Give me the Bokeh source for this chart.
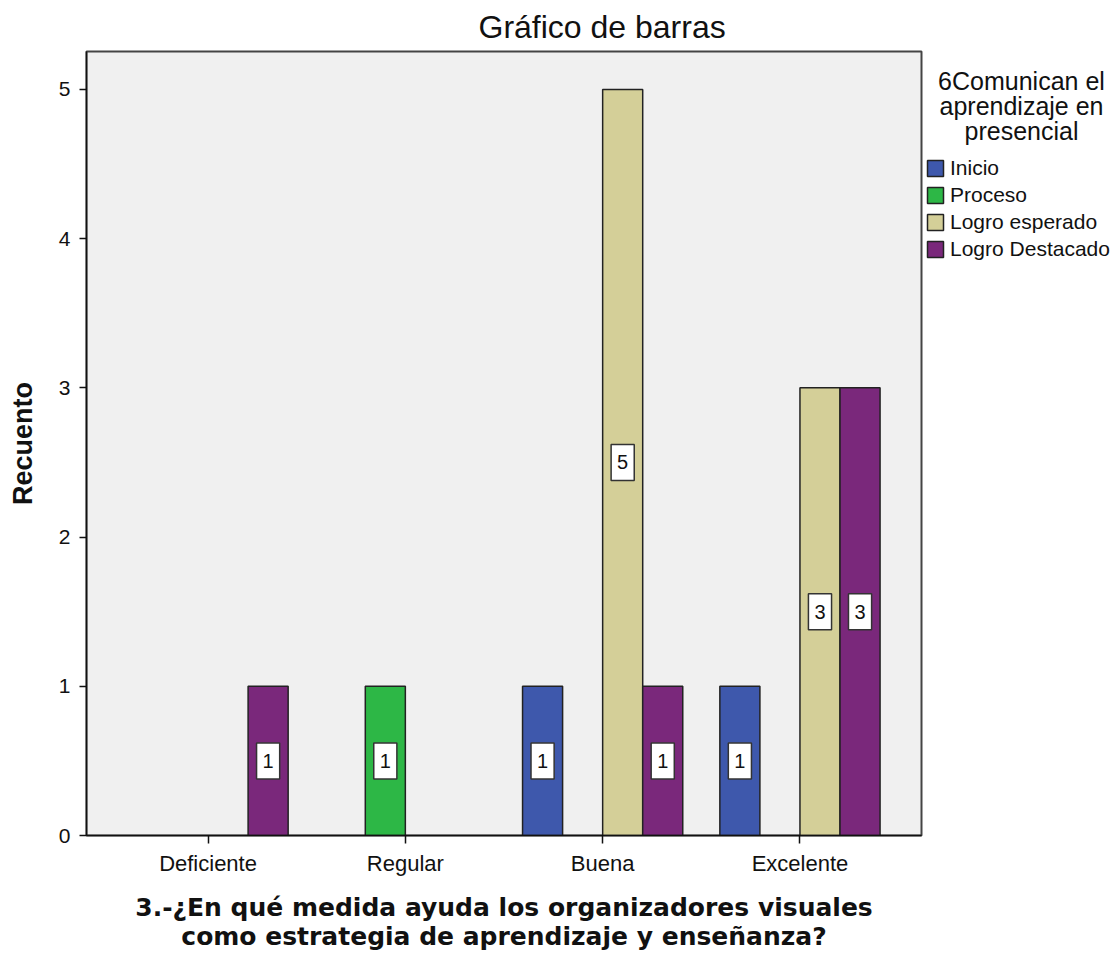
from bokeh.plotting import figure
from bokeh.layouts import row
from bokeh.models import ColumnDataSource, FactorRange, Range1d, Legend, LegendItem, FixedTicker, Title, Label
from bokeh.transform import dodge
from bokeh.core.properties import value
from bokeh.embed import file_html
from bokeh.resources import INLINE

# ---- data ----
categories = ["Deficiente", "Regular", "Buena", "Excelente"]
series = ["Inicio", "Proceso", "Logro esperado", "Logro Destacado"]
inicio = [0, 0, 1, 1]
proceso = [0, 1, 0, 0]
logro_esperado = [0, 0, 5, 3]
logro_destacado = [1, 0, 1, 3]
y_ticks = [0, 1, 2, 3, 4, 5]

title_text = "Gráfico de barras"
legend_title_lines = ["6Comunican el", "aprendizaje en", "presencial"]
x_title = "3.-¿En qué medida ayuda los organizadores visuales\ncomo estrategia de aprendizaje y enseñanza?"
y_title = "Recuento"

# ---- style ----
colors = ["#3E58AC", "#2DB746", "#D4CF98", "#7A287B"]
offsets = [-0.3045, -0.1015, 0.1015, 0.3045]
bar_w = 0.203
FONT = "Liberation Sans"
H = 954
W_MAIN, W_LEG = 924, 195

# ---------------- main chart ----------------
p = figure(
    x_range=FactorRange(*categories, range_padding=0.116, range_padding_units="absolute"),
    y_range=Range1d(0, 5.254),
    width=W_MAIN, height=H,
    output_backend="svg", toolbar_location=None,
    min_border_left=86, min_border_right=3, min_border_top=50, min_border_bottom=119,
)
p.background_fill_color = "#F0F0F0"
p.border_fill_color = "white"
p.outline_line_color = "#444444"
p.outline_line_width = 2
p.xgrid.visible = False
p.ygrid.visible = False

p.title = Title(text=title_text, align="left", offset=392, standoff=13,
                text_font=FONT, text_font_size="32px", text_font_style="normal", text_color="#111111")

values = [inicio, proceso, logro_esperado, logro_destacado]
for i, (name, vals) in enumerate(zip(series, values)):
    cats = [c for c, v in zip(categories, vals) if v > 0]
    cnt = [v for v in vals if v > 0]
    src = ColumnDataSource(dict(cat=cats, count=cnt, mid=[v / 2 for v in cnt], label=[str(v) for v in cnt]))
    p.vbar(x=dodge("cat", offsets[i], range=p.x_range), top="count", width=bar_w, source=src,
           fill_color=colors[i], line_color="#222222", line_width=1.5)
    p.text(x=dodge("cat", offsets[i], range=p.x_range), y="mid", text="label", source=src,
           text_align="center", text_baseline="middle", text_font=value(FONT), text_font_size="20px",
           text_color="#111111", background_fill_color="white", border_line_color="#333333",
           border_line_width=1.5, padding=dict(left=6, right=6, top=11, bottom=11))

p.yaxis.ticker = FixedTicker(ticks=y_ticks)
for ax in (p.xaxis[0], p.yaxis[0]):
    ax.axis_line_color = "#111111"
    ax.axis_line_width = 1.5
    ax.major_tick_line_color = "#111111"
    ax.major_tick_line_width = 1.5
    ax.major_tick_in = 0
    ax.minor_tick_line_color = None
    ax.major_label_text_font = FONT
    ax.major_label_text_font_size = "21px"
    ax.major_label_text_color = "#111111"
    ax.axis_label_text_color = "#111111"
    ax.axis_label_text_font_style = "bold"

p.xaxis.major_label_text_font_size = "22px"
p.yaxis.major_tick_out = 7
p.yaxis.major_label_standoff = 9
p.yaxis.axis_label = y_title
p.yaxis.axis_label_text_font = FONT
p.yaxis.axis_label_text_font_size = "27px"
p.yaxis.axis_label_standoff = 18

p.xaxis.major_tick_out = 8
p.xaxis.major_label_standoff = 7
p.xaxis.axis_label = x_title
p.xaxis.axis_label_text_font = "DejaVu Sans"
p.xaxis.axis_label_text_font_size = "25px"
p.xaxis.axis_label_text_line_height = 1.03
p.xaxis.axis_label_standoff = 14

# ---------------- legend panel (frame aligned with the main frame: y 50..835) ----------------
p2 = figure(width=W_LEG, height=H, x_range=Range1d(0, W_LEG), y_range=Range1d(119, 904),
            x_axis_type=None, y_axis_type=None, output_backend="svg", toolbar_location=None,
            min_border=0, min_border_left=0, min_border_right=0, min_border_top=50, min_border_bottom=119)
p2.outline_line_color = None
p2.background_fill_color = "white"
p2.border_fill_color = "white"

items = []
for i, (name, vals) in enumerate(zip(series, values)):
    # hidden proxy renderers (same series values) that only supply the legend swatches
    proxy = p2.vbar(x=list(range(len(vals))), top=vals, width=1, fill_color=colors[i],
                    line_color="#222222", line_width=1.5, visible=False)
    items.append(LegendItem(label=name, renderers=[proxy]))

legend = Legend(items=items, location=(1, 574), orientation="vertical",
                glyph_width=20, glyph_height=20, spacing=3, label_standoff=5,
                padding=0, margin=0, border_line_color=None, background_fill_alpha=0,
                inactive_fill_alpha=0,
                label_text_font=FONT, label_text_font_size="21px", label_text_color="#111111",
                label_height=20)
p2.add_layout(legend)

leg_title_x = 97
leg_title_y = [874.0, 849.3, 824.6]
for txt, yy in zip(legend_title_lines, leg_title_y):
    p2.add_layout(Label(x=leg_title_x, y=yy, text=txt, text_align="center", text_baseline="alphabetic",
                        text_font=FONT, text_font_size="25px", text_color="#111111"))

layout = row(p, p2, spacing=0)
open("out.html", "w").write(file_html(layout, INLINE))
